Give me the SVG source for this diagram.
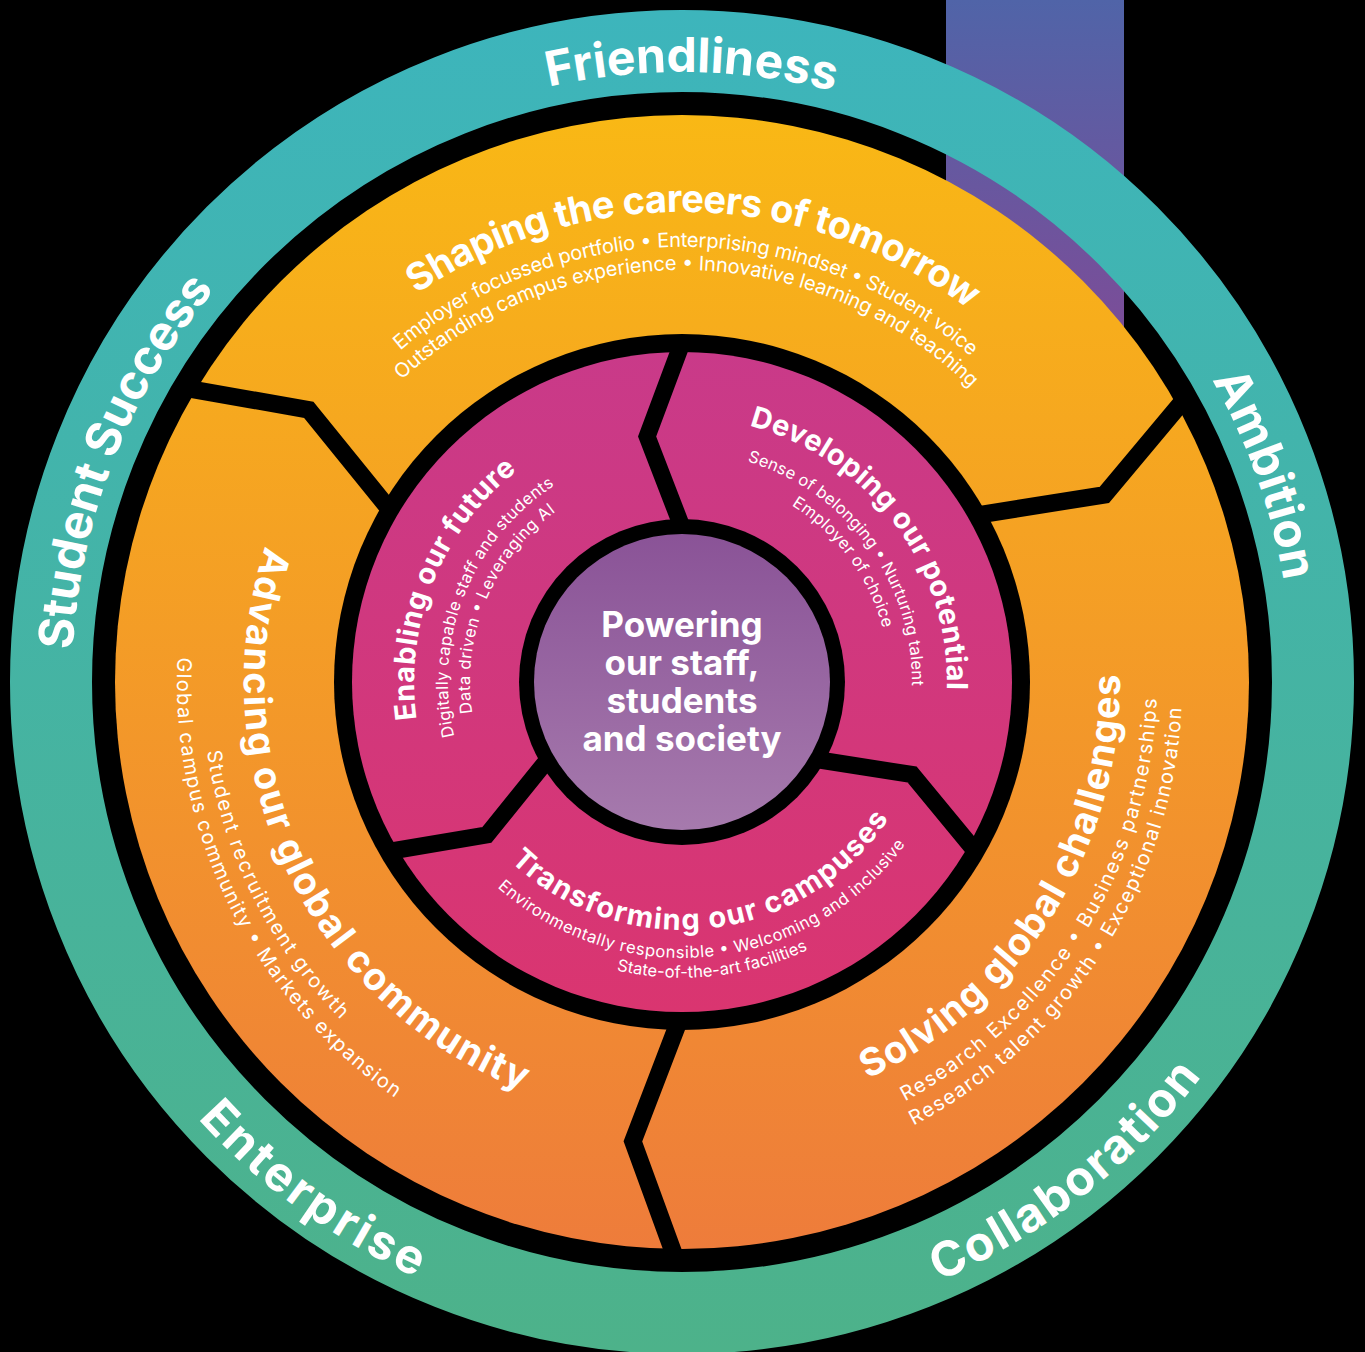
<svg xmlns="http://www.w3.org/2000/svg" width="1365" height="1352" viewBox="0 0 1365 1352">
<defs>
<linearGradient id="gTeal" gradientUnits="userSpaceOnUse" x1="0" y1="10" x2="0" y2="1352"><stop offset="0" stop-color="#3DB5BC"/><stop offset="1" stop-color="#4DB28A"/></linearGradient>
<linearGradient id="gOrange" gradientUnits="userSpaceOnUse" x1="0" y1="115" x2="0" y2="1250"><stop offset="0" stop-color="#F9B815"/><stop offset="1" stop-color="#EE7C3B"/></linearGradient>
<linearGradient id="gPink" gradientUnits="userSpaceOnUse" x1="0" y1="350" x2="0" y2="1012"><stop offset="0" stop-color="#C93A89"/><stop offset="1" stop-color="#DA3570"/></linearGradient>
<linearGradient id="gPurple" gradientUnits="userSpaceOnUse" x1="0" y1="534" x2="0" y2="830"><stop offset="0" stop-color="#8A5397"/><stop offset="1" stop-color="#A67AAD"/></linearGradient>
<linearGradient id="gBar" gradientUnits="userSpaceOnUse" x1="0" y1="0" x2="0" y2="330"><stop offset="0" stop-color="#5064A8"/><stop offset="1" stop-color="#7B4D98"/></linearGradient>
<path id="pFriend" d="M83.0,566.6 A610,610 0 0 1 1284.3,585.5"/>
<path id="pAmb" d="M580.3,80.5 A610,610 0 0 1 983.3,1212.4"/>
<path id="pStud" d="M363.3,1202.1 A610,610 0 0 1 803.6,84.2"/>
<path id="pColl" d="M245.7,1166.5 A652,652 0 0 0 1257.7,375.9"/>
<path id="pEnt" d="M96.0,396.2 A652,652 0 0 0 1134.9,1151.0"/>
<path id="pShT" d="M221.6,587.5 A470,470 0 0 1 1147.0,613.3"/>
<path id="pShS1" d="M254.4,602.0 A435,435 0 0 1 1111.2,611.0"/>
<path id="pShS2" d="M277.3,604.8 A412,412 0 0 1 1088.7,616.1"/>
<path id="pAdT" d="M428.9,324.5 A438,438 0 0 0 797.6,1104.5"/>
<path id="pAdS1" d="M396.5,296.1 A480,480 0 0 0 818.3,1142.2"/>
<path id="pAdS2" d="M383.0,275.0 A505,505 0 0 0 823.7,1166.7"/>
<path id="pSoT" d="M517.9,1088.1 A438,438 0 0 0 975.1,356.5"/>
<path id="pSoS1" d="M504.1,1122.4 A475,475 0 0 0 999.8,329.0"/>
<path id="pSoS2" d="M489.0,1143.3 A500,500 0 0 0 1021.1,314.5"/>
<path id="pEnT" d="M540.0,909.3 A268,268 0 0 1 737.7,419.9"/>
<path id="pEnS1" d="M558.7,880.9 A234,234 0 0 1 729.9,452.9"/>
<path id="pEnS2" d="M568.1,860.8 A212,212 0 0 1 727.9,475.0"/>
<path id="pDeT" d="M562.5,445.5 A265,265 0 0 1 875.2,863.4"/>
<path id="pDeS1" d="M580.1,475.8 A230,230 0 0 1 848.3,840.9"/>
<path id="pDeS2" d="M588.9,496.0 A208,208 0 0 1 833.1,824.9"/>
<path id="pTrT" d="M444.1,752.0 A248,248 0 0 0 929.5,697.6"/>
<path id="pTrS1" d="M416.7,758.1 A276,276 0 0 0 957.3,701.3"/>
<path id="pTrS2" d="M397.8,764.6 A296,296 0 0 0 977.3,701.6"/>
</defs>
<style>
text { font-family: Inter, "Noto Sans", "Liberation Sans", sans-serif; fill: #ffffff; text-anchor: middle; }
.val { font-size: 48px; font-weight: 700; }
.ot { font-size: 38px; font-weight: 700; }
.os { font-size: 20px; font-weight: 400; }
.pt { font-size: 29px; font-weight: 700; }
.ps { font-size: 16.5px; font-weight: 400; }
.ct { font-size: 35px; font-weight: 700; }
.div { fill: none; stroke: #000; stroke-linejoin: miter; }
</style>
<rect x="0" y="0" width="1365" height="1352" fill="#000"/>
<rect x="946" y="0" width="178" height="330" fill="url(#gBar)"/>
<g id="rings">
<circle cx="682" cy="682" r="631" fill="none" stroke="url(#gTeal)" stroke-width="82"/>
<circle cx="682" cy="682" r="567" fill="url(#gOrange)"/>
<circle cx="682" cy="682" r="348" fill="#000"/>
<circle cx="682" cy="682" r="330" fill="url(#gPink)"/>
<circle cx="682" cy="682" r="163" fill="#000"/>
<circle cx="682" cy="682" r="148" fill="url(#gPurple)"/>
</g>
<g id="connectors">
<polyline class="div" stroke-width="17.5" points="679.0,1021.0 632.9,1141.4 676.9,1262.0"/>
<polyline class="div" stroke-width="17.5" points="389.9,509.9 308.7,409.8 182.3,387.6"/>
<polyline class="div" stroke-width="17.5" points="977.1,515.1 1104.4,494.8 1186.8,396.4"/>
<polyline class="div" stroke-width="17" points="682,527 647.1,436.5 682,343"/>
<polyline class="div" stroke-width="17" points="816.2,759.5 912.1,774.5 975.6,851.5"/>
<polyline class="div" stroke-width="17" points="547.8,759.5 486.8,835.0 388.4,851.5"/>
</g>
<g id="value-friendliness"><text class="val"><textPath href="#pFriend" startOffset="50%" textLength="288" lengthAdjust="spacing">Friendliness</textPath></text></g>
<g id="value-ambition"><text class="val"><textPath href="#pAmb" startOffset="50%" textLength="215" lengthAdjust="spacing">Ambition</textPath></text></g>
<g id="value-student-success"><text class="val"><textPath href="#pStud" startOffset="50%" textLength="394" lengthAdjust="spacing">Student Success</textPath></text></g>
<g id="value-collaboration"><text class="val"><textPath href="#pColl" startOffset="50%" textLength="337" lengthAdjust="spacing">Collaboration</textPath></text></g>
<g id="value-enterprise"><text class="val"><textPath href="#pEnt" startOffset="50%" textLength="272" lengthAdjust="spacing">Enterprise</textPath></text></g>
<g id="shaping">
<text class="ot"><textPath href="#pShT" startOffset="50%" textLength="590" lengthAdjust="spacing">Shaping the careers of tomorrow</textPath></text>
<text class="os"><textPath href="#pShS1" startOffset="50%" textLength="622" lengthAdjust="spacing">Employer focussed portfolio • Enterprising mindset • Student voice</textPath></text>
<text class="os"><textPath href="#pShS2" startOffset="50%" textLength="628" lengthAdjust="spacing">Outstanding campus experience • Innovative learning and teaching</textPath></text>
</g>
<g id="advancing">
<text class="ot"><textPath href="#pAdT" startOffset="50%" textLength="663" lengthAdjust="spacing">Advancing our global community</textPath></text>
<text class="os"><textPath href="#pAdS1" startOffset="50%" textLength="305" lengthAdjust="spacing">Student recruitment growth</textPath></text>
<text class="os"><textPath href="#pAdS2" startOffset="50%" textLength="513" lengthAdjust="spacing">Global campus community • Markets expansion</textPath></text>
</g>
<g id="solving">
<text class="ot"><textPath href="#pSoT" startOffset="50%" textLength="504" lengthAdjust="spacing">Solving global challenges</textPath></text>
<text class="os"><textPath href="#pSoS1" startOffset="50%" textLength="497" lengthAdjust="spacing">Research Excellence • Business partnerships</textPath></text>
<text class="os"><textPath href="#pSoS2" startOffset="50%" textLength="519" lengthAdjust="spacing">Research talent growth • Exceptional innovation</textPath></text>
</g>
<g id="enabling">
<text class="pt"><textPath href="#pEnT" startOffset="50%" textLength="281" lengthAdjust="spacing">Enabling our future</textPath></text>
<text class="ps"><textPath href="#pEnS1" startOffset="50%" textLength="288" lengthAdjust="spacing">Digitally capable staff and students</textPath></text>
<text class="ps"><textPath href="#pEnS2" startOffset="50%" textLength="229" lengthAdjust="spacing">Data driven • Leveraging AI</textPath></text>
</g>
<g id="developing">
<text class="pt"><textPath href="#pDeT" startOffset="50%" textLength="356" lengthAdjust="spacing">Developing our potential</textPath></text>
<text class="ps"><textPath href="#pDeS1" startOffset="50%" textLength="299" lengthAdjust="spacing">Sense of belonging • Nurturing talent</textPath></text>
<text class="ps"><textPath href="#pDeS2" startOffset="50%" textLength="157" lengthAdjust="spacing">Employer of choice</textPath></text>
</g>
<g id="transforming">
<text class="pt"><textPath href="#pTrT" startOffset="50%" textLength="434" lengthAdjust="spacing">Transforming our campuses</textPath></text>
<text class="ps"><textPath href="#pTrS1" startOffset="50%" textLength="462" lengthAdjust="spacing">Environmentally responsible • Welcoming and inclusive</textPath></text>
<text class="ps"><textPath href="#pTrS2" startOffset="50%" textLength="196" lengthAdjust="spacing">State-of-the-art facilities</textPath></text>
</g>
<g id="center">
<text class="ct" x="682" y="637">Powering</text>
<text class="ct" x="682" y="675">our staff,</text>
<text class="ct" x="682" y="713">students</text>
<text class="ct" x="682" y="751">and society</text>
</g>
</svg>
